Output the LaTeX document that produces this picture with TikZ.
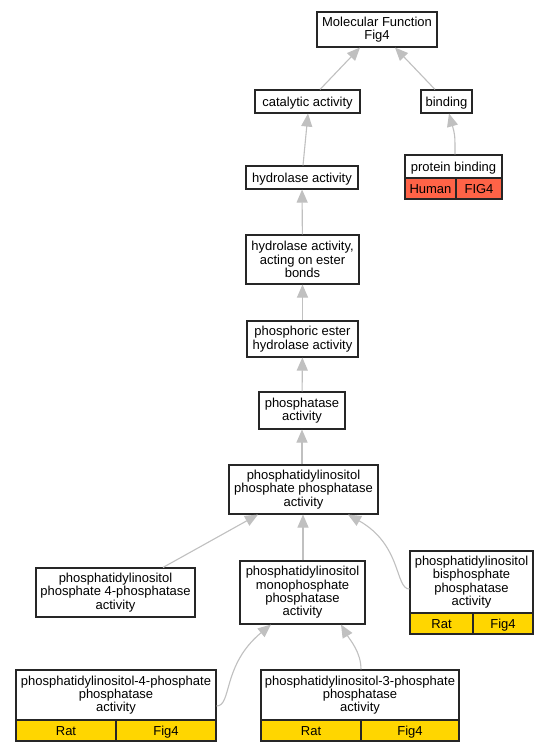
\documentclass[tikz,border=0pt]{standalone}
\usepackage{fontspec}
\setmainfont{Liberation Sans}
\usetikzlibrary{arrows.meta}
\begin{document}
\begin{tikzpicture}[x=1pt,y=-1pt,
  box/.style={draw=black!85,line width=1.1pt,fill=white,inner sep=0pt,align=center,
    font=\fontsize{13}{13.3}\selectfont,execute at begin node={\rule{0pt}{12.5pt}}},
  cell/.style={draw=black!85,line width=1.1pt,inner sep=0pt,
    font=\fontsize{13}{13.3}\selectfont,text height=11.5pt,text depth=2.2pt},
  rat/.style={cell,fill={rgb,255:red,255;green,214;blue,0}},
  hum/.style={cell,fill={rgb,255:red,255;green,99;blue,71}},
  edge/.style={draw={rgb,255:red,192;green,192;blue,192},line width=1.1pt,
    -{Triangle[length=13pt,width=11pt]}}]
\useasboundingbox (0,0) rectangle (548,752);
\fill[white] (0,0) rectangle (548,752);
% boxes: center, width, height
\node[box,minimum width=120,minimum height=35] (mf) at (377,29.5) {Molecular Function\\Fig4};
\node[box,minimum width=105,minimum height=23] (cat) at (307.5,101.5) {catalytic activity};
\node[box,minimum width=51,minimum height=23] (bind) at (446.5,101.5) {binding};
\node[box,minimum width=112,minimum height=23] (hyd) at (302,177.5) {hydrolase activity};
\node[box,minimum width=97,minimum height=23] (pb) at (453.5,166.5) {protein binding};
\node[hum,minimum width=51,minimum height=21] (pbh) at (430.5,188.5) {Human};
\node[hum,minimum width=46,minimum height=21] (pbf) at (479,188.5) {FIG4};
\node[box,minimum width=113,minimum height=49] (est) at (302.5,259.5) {hydrolase activity,\\acting on ester\\bonds};
\node[box,minimum width=111,minimum height=36] (pho) at (302.5,339) {phosphoric ester\\hydrolase activity};
\node[box,minimum width=86,minimum height=37] (pht) at (302,410.5) {phosphatase\\activity};
\node[box,minimum width=149,minimum height=49] (pipp) at (303.5,489.5) {phosphatidylinositol\\phosphate phosphatase\\activity};
\node[box,minimum width=159,minimum height=49] (p4p) at (115.5,592.5) {phosphatidylinositol\\phosphate 4-phosphatase\\activity};
\node[box,minimum width=125,minimum height=63] (mono) at (302.5,592.5) {phosphatidylinositol\\monophosphate\\phosphatase\\activity};
\node[box,minimum width=123,minimum height=62] (bis) at (471.5,582) {phosphatidylinositol\\bisphosphate\\phosphatase\\activity};
\node[rat,minimum width=63,minimum height=21] (bisr) at (441.5,623.5) {Rat};
\node[rat,minimum width=60,minimum height=21] (bisf) at (503,623.5) {Fig4};
\node[box,minimum width=200,minimum height=50] (pi4) at (116,695) {phosphatidylinositol-4-phosphate\\phosphatase\\activity};
\node[rat,minimum width=100,minimum height=21] (pi4r) at (66,730.5) {Rat};
\node[rat,minimum width=100,minimum height=21] (pi4f) at (166,730.5) {Fig4};
\node[box,minimum width=198,minimum height=50] (pi3) at (360,695) {phosphatidylinositol-3-phosphate\\phosphatase\\activity};
\node[rat,minimum width=100,minimum height=21] (pi3r) at (311,730.5) {Rat};
\node[rat,minimum width=98,minimum height=21] (pi3f) at (410,730.5) {Fig4};
% edges
\path[edge] (cat.north -| 320,0) -- (mf.south -| 360,0);
\path[edge] (bind.north -| 435,0) -- (mf.south -| 395,0);
\path[edge] (hyd.north -| 303,0) -- (cat.south -| 308,0);
\path[edge] (pb.north -| 455,0) .. controls (455,135) .. (bind.south -| 449,0);
\path[edge] (est) -- (hyd);
\path[edge] (pho) -- (est);
\path[edge] (pht) -- (pho);
\path[edge] (pipp.north -| pht) -- (pht);
\path[edge] (p4p.north -| 163,0) -- (pipp.south -| 258,0);
\path[edge] (mono.north -| 303,0) -- (pipp.south -| 303,0);
\path[edge] (bis.west |- 0,589) .. controls (395,589) and (402,545) .. (pipp.south -| 348,0);
\path[edge] (pi4.east |- 0,706) .. controls (232,706) and (222,665) .. (mono.south -| 271,0);
\path[edge] (pi3.north -| 361,0) .. controls (361,652) and (350,640) .. (mono.south -| 341,0);
\end{tikzpicture}
\end{document}
